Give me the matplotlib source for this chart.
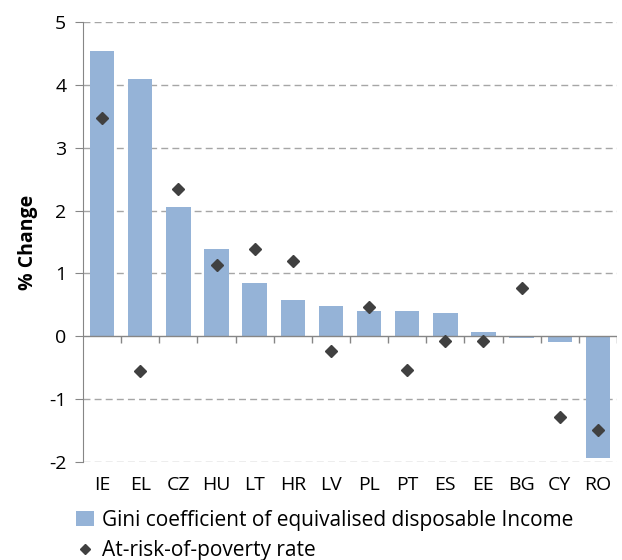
import matplotlib.pyplot as plt
from matplotlib.lines import Line2D
from matplotlib.patches import Patch

plt.rcParams['font.family'] = ['Open Sans', 'DejaVu Sans']

# --- data ---
countries = ['IE', 'EL', 'CZ', 'HU', 'LT', 'HR', 'LV', 'PL', 'PT', 'ES', 'EE', 'BG', 'CY', 'RO']
gini_change = [4.54, 4.10, 2.06, 1.39, 0.85, 0.57, 0.48, 0.41, 0.40, 0.37, 0.07, -0.03, -0.09, -1.94]
arop_change = [3.48, -0.55, 2.35, 1.13, 1.39, 1.19, -0.24, 0.47, -0.53, -0.08, -0.08, 0.77, -1.28, -1.49]
y_ticks = [-2, -1, 0, 1, 2, 3, 4, 5]

bar_color = '#95B3D7'
marker_color = '#404040'
grid_color = '#A6A6A6'

fig = plt.figure(figsize=(6.22, 5.6), dpi=100)
ax = fig.add_axes([83 / 622, 98 / 560, 534 / 622, 440 / 560])

x = list(range(len(countries)))
ax.bar(x, gini_change, width=0.64, color=bar_color, zorder=2)
ax.plot(x, arop_change, linestyle='none', marker='D', markersize=6.5,
        color=marker_color, zorder=3)

ax.set_xlim(-0.5, len(countries) - 0.5)
ax.set_ylim(-2, 5)
ax.set_yticks(y_ticks)
ax.set_yticklabels([str(t) for t in y_ticks])

# dashed gridlines, solid zero line
for t in y_ticks:
    if t != 0:
        ax.axhline(t, color=grid_color, linestyle=(0, (5, 3)), linewidth=1.0, zorder=1)
ax.axhline(0, color='#868686', linewidth=1.0, zorder=2)

# small ticks on the zero line between categories
ax.vlines([k + 0.5 for k in x], -0.1, 0, color='#868686', linewidth=1.0, zorder=2)

for side in ['top', 'right', 'bottom']:
    ax.spines[side].set_visible(False)
ax.spines['left'].set_color('#868686')

ax.set_xticks(x)
ax.set_xticklabels(countries)
ax.tick_params(axis='x', length=0, pad=10, labelsize=14)
ax.tick_params(axis='y', length=6, color='#868686', pad=6, labelsize=14)

ax.set_ylabel('% Change', fontsize=14, fontweight='bold', labelpad=8)

handles = [
    Patch(facecolor=bar_color, edgecolor='none',
          label='Gini coefficient of equivalised disposable Income'),
    Line2D([], [], linestyle='none', marker='D', markersize=5.5, color=marker_color,
           label='At-risk-of-poverty rate'),
]
fig.legend(handles=handles, loc='upper left', bbox_to_anchor=(76 / 622, 1 - 510 / 560),
           frameon=False, fontsize=15, handlelength=0.85, handletextpad=0.4,
           labelspacing=0.45, borderaxespad=0, borderpad=0)

fig.savefig('out.png', dpi=100)
